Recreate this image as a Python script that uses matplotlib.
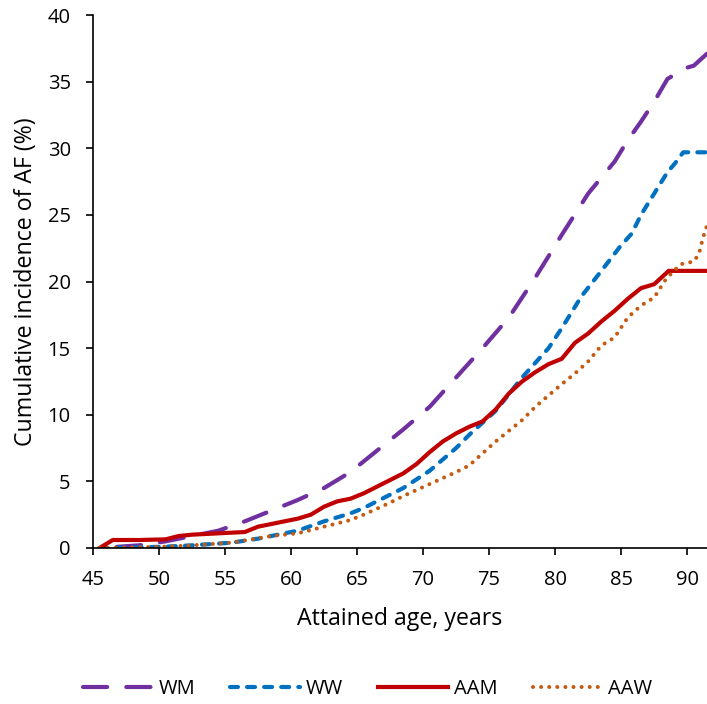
import numpy as np
import matplotlib
matplotlib.use("Agg")
from matplotlib import pyplot as plt

plt.rcParams['font.family'] = ['Open Sans', 'DejaVu Sans']

# ages and cumulative incidence (%)
age_wm = [45.5, 48.5, 50.5, 52.5, 54.5, 56.5, 58.5, 60.5, 62.5, 64.5, 66.5, 68.5, 70.5, 72.5, 74.5, 76.5, 78.5, 80.5, 82.5, 84.5, 85.5, 86.5, 87.5, 88.5, 89.8, 90.5, 91.5]
wm = [0, 0.2, 0.5, 0.9, 1.3, 2.0, 2.8, 3.6, 4.5, 5.7, 7.3, 8.9, 10.6, 12.8, 15.0, 17.3, 20.3, 23.5, 26.6, 29.0, 30.6, 32.0, 33.5, 35.2, 36.0, 36.2, 37.1]

age_ww = [45.5, 48.5, 50.5, 52.5, 55.5, 57.5, 60.5, 62.5, 64.5, 65.5, 66.5, 68.5, 70.5, 72.5, 73.5, 75.5, 77.5, 79.5, 80.5, 82, 83.5, 84.9, 85.8, 86.5, 87.5, 88.5, 89.1, 89.7, 91.5]
ww = [0, 0.05, 0.1, 0.2, 0.4, 0.7, 1.3, 2.0, 2.6, 3.0, 3.5, 4.5, 5.8, 7.5, 8.5, 10.3, 12.8, 15.0, 16.5, 18.9, 20.8, 22.6, 23.6, 25.0, 26.6, 28.2, 28.9, 29.7, 29.7]

age_aam = [45.5, 46.5, 48.5, 50.5, 51.5, 52.5, 54.5, 56.5, 57.5, 58.5, 60.5, 61.5, 62.5, 63.5, 64.5, 65.5, 66.5, 67.5, 68.5, 69.5, 70.5, 71.5, 72.5, 73.5, 74.5, 75.5, 76.5, 77.5, 78.5, 79.5, 80.5, 81.5, 82.5, 83.5, 84.5, 85.5, 86.5, 87.5, 88.6, 91.5]
aam = [0, 0.6, 0.6, 0.65, 0.9, 1.0, 1.1, 1.2, 1.6, 1.8, 2.2, 2.5, 3.1, 3.5, 3.7, 4.1, 4.6, 5.1, 5.6, 6.3, 7.2, 8.0, 8.6, 9.1, 9.5, 10.4, 11.6, 12.5, 13.2, 13.8, 14.2, 15.4, 16.1, 17.0, 17.8, 18.7, 19.5, 19.8, 20.8, 20.8]

age_aaw = [45.5, 48.5, 50.5, 52.5, 55.5, 58.5, 60.5, 62.5, 64.5, 65.5, 67.5, 68.5, 70.5, 72.5, 73.5, 74.5, 75.5, 77.5, 78.5, 80.5, 81.5, 82.5, 83.5, 84.5, 85.5, 86.5, 87.5, 88.4, 89.5, 90.5, 90.9, 91.2, 91.5]
aaw = [0, 0.05, 0.1, 0.2, 0.4, 0.9, 1.1, 1.6, 2.1, 2.5, 3.4, 3.9, 4.8, 5.7, 6.2, 7.1, 8.0, 9.6, 10.6, 12.3, 13.1, 14.0, 15.2, 15.8, 17.3, 18.2, 18.8, 20.2, 21.3, 21.5, 22.1, 23.3, 24.2]

fig = plt.figure(figsize=(7.07, 7.04), dpi=100)
ax = fig.add_axes([0.1315, 0.2216, 0.8685, 0.757])

# WM drawn from the right end so the dash pattern starts at age 91.5
ax.plot(age_wm[::-1], wm[::-1], color='#7030A0', lw=3.0, dashes=(5.8, 4.6), dash_capstyle='round', label='WM')
ax.plot(age_ww, ww, color='#0070C0', lw=3.0, dashes=(1.9, 2.2), dash_capstyle='round', label='WW')
ax.plot(age_aam, aam, color='#C00000', lw=3.0, label='AAM')
ax.plot(age_aaw, aaw, color='#C55A11', lw=2.9, dashes=(0.01, 2.0), dash_capstyle='round', label='AAW')

ax.set_xlim(45, 91.5)
ax.set_ylim(0, 40)
ax.set_xticks(np.arange(45, 91, 5))
ax.set_yticks(np.arange(0, 41, 5))
ax.tick_params(labelsize=14.5, length=5, width=1.2, color='black')
ax.tick_params(axis='x', pad=11)
ax.tick_params(axis='y', pad=11)
ax.spines['top'].set_visible(False)
ax.spines['right'].set_visible(False)
ax.spines['left'].set_linewidth(1.2)
ax.spines['bottom'].set_linewidth(1.2)
ax.set_xlabel("Attained age, years", fontsize=16.7, labelpad=12)
ax.set_ylabel("Cumulative incidence of AF (%)", fontsize=16.7, labelpad=7)

fig.legend(loc='center', bbox_to_anchor=(0.52, 0.021), ncol=4, frameon=False,
           fontsize=14.5, handlelength=3.45, columnspacing=1.75, handletextpad=0.3)

fig.savefig('out.png', dpi=100)
